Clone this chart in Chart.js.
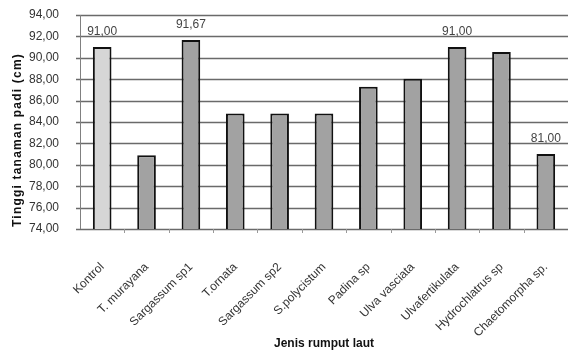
<!DOCTYPE html>
<html>
<head>
<meta charset="utf-8">
<script src="https://cdn.jsdelivr.net/npm/chart.js@4/dist/chart.umd.min.js"></script>
<style>
  html, body { margin: 0; padding: 0; background: #fff; }
  #wrap { width: 568px; height: 355px; }
</style>
</head>
<body>
<div id="wrap"><canvas id="c" width="568" height="355"></canvas></div>
<script>
// Seaweed treatments (x categories)
const categories = [
  "Kontrol", "T. murayana", "Sargassum sp1", "T.ornata", "Sargassum sp2",
  "S.polycistum", "Padina sp", "Ulva vasciata", "Ulvafertikulata",
  "Hydrochlatrus sp", "Chaetomorpha sp."
];
// Rice plant height (cm)
const plantHeight = [91.00, 80.90, 91.67, 84.80, 84.80, 84.80, 87.30, 88.05, 91.00, 90.55, 81.00];
// Bars that carry a printed value
const labelledBars = [0, 2, 8, 10];
// Y axis range and step
const yMin = 74, yMax = 94, yStep = 2;
const yTitle = 'Tinggi tanaman padi (cm)';
const xTitle = 'Jenis rumput laut';

const FONT = "'Liberation Sans', Arial, sans-serif";
const fmt = v => v.toFixed(2).replace('.', ',');

const barColors = categories.map((_, i) => i === 0 ? '#d6d6d6' : '#a2a2a2');

// Horizontal rules at every y tick, the value axis line and the
// small category-boundary ticks under the x axis
const plotRules = {
  id: 'plotRules',
  beforeDatasetsDraw(chart) {
    const { ctx, chartArea: a, scales: { x, y } } = chart;
    ctx.save();
    ctx.strokeStyle = '#6a6a6a';
    ctx.lineWidth = 1.4;
    y.ticks.forEach(t => {
      const py = Math.round(y.getPixelForValue(t.value)) + 0.5;
      ctx.beginPath();
      ctx.moveTo(a.left - 4, py);
      ctx.lineTo(a.right, py);
      ctx.stroke();
    });
    ctx.strokeStyle = '#808080';
    ctx.lineWidth = 1;
    ctx.beginPath();
    ctx.moveTo(Math.round(a.left) + 0.5, a.top);
    ctx.lineTo(Math.round(a.left) + 0.5, a.bottom);
    ctx.stroke();
    const step = x.getPixelForValue(1) - x.getPixelForValue(0);
    ctx.strokeStyle = '#999';
    for (let i = 1; i < categories.length; i++) {
      const px = Math.round(x.getPixelForValue(i) - step / 2) + 0.5;
      ctx.beginPath();
      ctx.moveTo(px, a.bottom);
      ctx.lineTo(px, a.bottom + 4);
      ctx.stroke();
    }
    ctx.restore();
  }
};

// Printed values over selected bars, and the spaced-out y axis title
const annotations = {
  id: 'annotations',
  afterDatasetsDraw(chart) {
    const { ctx, chartArea: a } = chart;
    const meta = chart.getDatasetMeta(0);
    ctx.save();
    ctx.font = '12px ' + FONT;
    ctx.fillStyle = '#444';
    ctx.textAlign = 'center';
    ctx.textBaseline = 'bottom';
    labelledBars.forEach(i => {
      const bar = meta.data[i];
      ctx.fillText(fmt(plantHeight[i]), bar.x, bar.y - 9);
    });
    ctx.restore();

    ctx.save();
    ctx.translate(18, (a.top + a.bottom) / 2 + 18);
    ctx.rotate(-Math.PI / 2);
    ctx.font = 'bold 12px ' + FONT;
    ctx.letterSpacing = '1.2px';
    ctx.fillStyle = '#111';
    ctx.textAlign = 'center';
    ctx.textBaseline = 'middle';
    ctx.fillText(yTitle, 0, 0);
    ctx.restore();
  }
};

new Chart(document.getElementById('c'), {
  type: 'bar',
  data: {
    labels: categories,
    datasets: [{
      data: plantHeight,
      backgroundColor: barColors,
      borderColor: '#111',
      borderWidth: 2,
      borderSkipped: false,
      categoryPercentage: 1,
      barPercentage: 0.42
    }]
  },
  options: {
    responsive: false,
    animation: false,
    devicePixelRatio: 1,
    layout: { padding: { top: 15, right: 0, left: 0, bottom: 0 } },
    plugins: { legend: { display: false }, tooltip: { enabled: false } },
    scales: {
      x: {
        afterFit(s) { s.height = 126; s.paddingRight = 0; s.paddingLeft = 0; },
        grid: { display: false },
        border: { display: false },
        ticks: {
          minRotation: 45, maxRotation: 45, autoSkip: false,
          color: '#333', font: { family: FONT, size: 12 }, padding: 23
        },
        title: {
          display: true, text: xTitle, color: '#111',
          font: { family: FONT, size: 12, weight: 'bold' },
          padding: { top: 0, bottom: 4 }
        }
      },
      y: {
        min: yMin, max: yMax,
        afterFit(s) { s.width = 80; s.paddingTop = 0; s.paddingBottom = 0; },
        grid: { display: false },
        border: { display: false },
        ticks: {
          stepSize: yStep, color: '#333', padding: 13,
          font: { family: FONT, size: 12 },
          callback: v => fmt(v)
        },
        title: { display: false }
      }
    }
  },
  plugins: [plotRules, annotations]
});
</script>
</body>
</html>
